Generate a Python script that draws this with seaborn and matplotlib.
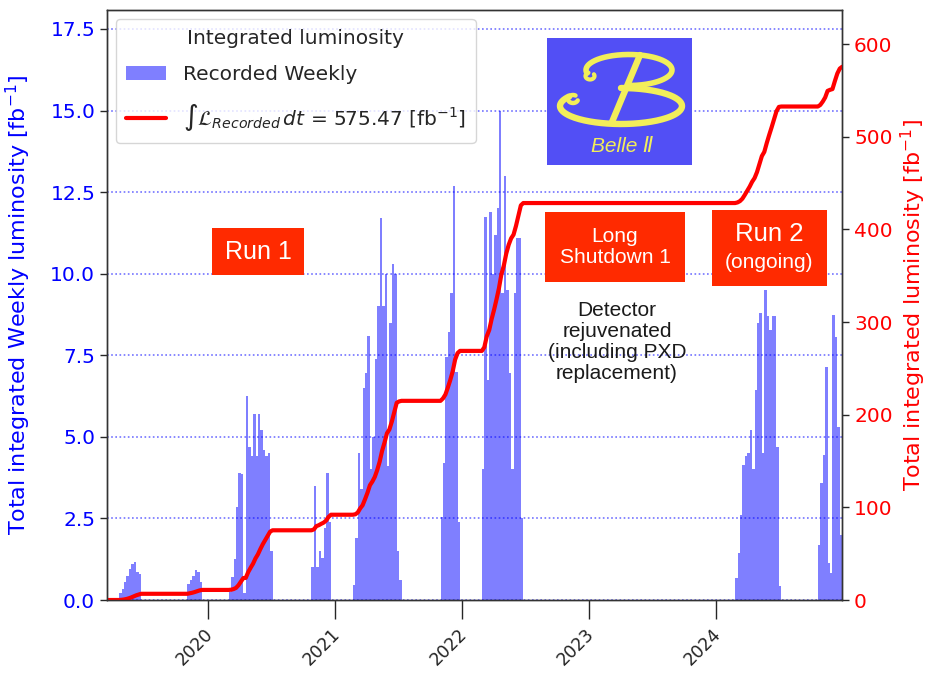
import numpy as np
import pandas as pd
import matplotlib
matplotlib.use("Agg")
import matplotlib.pyplot as plt
import matplotlib.dates as mdates
import matplotlib.transforms as mtransforms
from matplotlib.patches import Patch, Rectangle
from matplotlib.lines import Line2D
import seaborn as sns

# ---- data: weekly recorded luminosity [fb^-1], one list per data-taking period ----
first_week = "2019-03-18"
last_week = "2024-12-23"

period_starts = ["2019-04-22", "2019-11-04", "2020-03-02", "2020-10-26",
                 "2021-02-22", "2021-11-01", "2022-02-28", "2024-02-26",
                 "2024-10-21"]

lumi_2019_spring = [0.20, 0.35, 0.55, 0.75, 0.95, 1.10, 1.15, 0.85, 0.80]
lumi_2019_autumn = [0.50, 0.60, 0.75, 0.92, 0.85, 0.55]
lumi_2020_spring = [0.25, 0.70, 1.25, 2.85, 3.90, 3.85, 0.20, 6.25, 4.70,
                    4.40, 5.70, 4.40, 5.70, 5.20, 4.60, 4.40, 4.50, 1.50]
lumi_2020_autumn = [1.00, 3.50, 1.00, 1.50, 1.30, 2.20, 3.90, 2.40]
lumi_2021_spring = [0.46, 1.90, 4.50, 3.40, 6.50, 6.95, 8.10, 4.00, 5.00,
                    7.40, 9.00, 11.70, 9.00, 10.00, 4.10, 8.50, 10.30, 10.00,
                    1.50, 0.60]
lumi_2021_autumn = [2.55, 4.20, 7.45, 8.20, 9.40, 12.70, 7.00, 2.40]
lumi_2022_spring = [4.00, 11.75, 6.75, 11.90, 10.00, 11.20, 12.00, 15.00,
                    9.40, 13.00, 9.50, 6.95, 4.00, 9.40, 11.10, 11.10, 2.50]
lumi_2024_spring = [0.67, 1.43, 2.60, 4.14, 4.40, 4.50, 5.20, 4.00, 6.43,
                    8.50, 8.80, 4.50, 9.50, 8.70, 8.27, 8.70, 8.70, 4.70, 0.43]
lumi_2024_autumn = [1.69, 3.58, 4.44, 7.15, 1.14, 0.82, 8.73, 8.07, 5.30, 2.00]

periods = [lumi_2019_spring, lumi_2019_autumn, lumi_2020_spring,
           lumi_2020_autumn, lumi_2021_spring, lumi_2021_autumn,
           lumi_2022_spring, lumi_2024_spring, lumi_2024_autumn]

left_ticks = [0.0, 2.5, 5.0, 7.5, 10.0, 12.5, 15.0, 17.5]
right_ticks = [0, 100, 200, 300, 400, 500, 600]

# ---- build the weekly series and its running integral ----
weeks = pd.date_range(first_week, last_week, freq="W-MON")
weekly = pd.Series(0.0, index=weeks)
for start, vals in zip(period_starts, periods):
    idx = pd.date_range(start, periods=len(vals), freq="W-MON")
    weekly.loc[idx] = vals

edge_dates = list(weeks.to_pydatetime()) + [weeks[-1].to_pydatetime() + pd.Timedelta(days=7)]
edges = mdates.date2num(edge_dates)
df = pd.DataFrame({"week": edges[:-1] + 3.5, "lumi": weekly.values})
cumulative = np.concatenate([[0.0], np.cumsum(weekly.values)])
total = cumulative[-1]

# ---- figure ----
sns.set_theme(style="ticks")
plt.rcParams["font.family"] = ["DejaVu Sans"]
plt.rcParams["mathtext.fontset"] = "dejavusans"

W, H = 928, 673
fig = plt.figure(figsize=(W / 100, H / 100), dpi=100)
ax = fig.add_axes([107 / W, 1 - 600 / H, (842.2 - 107) / W, 590 / H])
ax2 = ax.twinx()

sns.histplot(data=df, x="week", weights="lumi", binwidth=7,
             binrange=(float(edges[0]), float(edges[-1])), color="blue",
             alpha=0.5, linewidth=0, ax=ax)
sns.lineplot(x=edges, y=cumulative, color="red", linewidth=3.0, ax=ax2)

ax.set_xlim(edges[0], edges[-1])
ax.set_ylim(0, 18.08)
ax2.set_ylim(0, 636.7)

ax.set_yticks(left_ticks)
ax.set_yticklabels([f"{t:.1f}" for t in left_ticks])
ax2.set_yticks(right_ticks)
ax2.set_yticklabels([str(t) for t in right_ticks])

ax.yaxis.grid(True, color="blue", linestyle=(0, (1, 1.5)), linewidth=1.2, alpha=0.55)
ax.xaxis.grid(False)

ax.xaxis.set_major_locator(mdates.YearLocator())
ax.xaxis.set_major_formatter(mdates.DateFormatter("%Y"))

ax.tick_params(axis="x", length=14, width=1, labelsize=12.5, labelrotation=45, pad=4)
ax.tick_params(axis="y", length=5, width=1, labelsize=14.5, labelcolor="blue")
ax2.tick_params(axis="y", length=5, width=1, labelsize=14.5, labelcolor="red")
shift = mtransforms.ScaledTranslation(9 / 100, 0, fig.dpi_scale_trans)
for lbl in ax.get_xticklabels():
    lbl.set_horizontalalignment("right")
    lbl.set_color("#222222")
    lbl.set_transform(lbl.get_transform() + shift)

ax.set_xlabel("")
ax.set_ylabel("Total integrated Weekly luminosity [fb$^{-1}$]", color="blue", fontsize=16)
ax2.set_ylabel("Total integrated luminosity [fb$^{-1}$]", color="red", fontsize=16)
ax.yaxis.set_label_coords(-0.10, 0.5)
ax2.yaxis.set_label_coords(1.077, 0.5)

for a in (ax, ax2):
    for s in a.spines.values():
        s.set_color("#333333")
        s.set_linewidth(1.0)

handles = [Patch(facecolor="blue", alpha=0.5, linewidth=0),
           Line2D([], [], color="red", linewidth=3.0)]
labels = ["Recorded Weekly",
          rf"$\int\mathcal{{L}}_{{Recorded}}\,dt$ = {total:.2f} [fb$^{{-1}}$]"]
leg = ax2.legend(handles, labels, title="Integrated luminosity", loc="upper left",
                 fontsize=14.5, title_fontsize=14.5, frameon=True, framealpha=0.8,
                 edgecolor="#cccccc", fancybox=True, borderaxespad=0.45,
                 labelspacing=0.85, borderpad=0.5)

# ---- annotations ----
def px(x, y):
    return x / W, 1 - y / H

red_box = "#ff2a00"
label_font = ["Liberation Sans", "DejaVu Sans"]

def box(x0, y0, x1, y1, color):
    fx, fy = px(x0, y1)
    fig.patches.append(Rectangle((fx, fy), (x1 - x0) / W, (y1 - y0) / H,
                                 transform=fig.transFigure, facecolor=color,
                                 edgecolor="none", zorder=5))

box(212, 228, 304, 275, red_box)
fig.text(*px(258, 252), "Run 1", color="white", fontsize=18, family=label_font,
         ha="center", va="center", zorder=6)

box(545, 212, 685, 282, red_box)
fig.text(*px(615, 247), "Long\nShutdown 1", color="white", fontsize=15,
         family=label_font, ha="center", va="center", linespacing=1.15, zorder=6)

box(712, 210, 827, 286, red_box)
fig.text(*px(769.5, 234), "Run 2", color="white", fontsize=18.5, family=label_font,
         ha="center", va="center", zorder=6)
fig.text(*px(769.5, 263), "(ongoing)", color="white", fontsize=15, family=label_font,
         ha="center", va="center", zorder=6)

fig.text(*px(617, 342), "Detector\nrejuvenated\n(including PXD\nreplacement)",
         color="#1a1a1a", fontsize=15, family=label_font, ha="center", va="center",
         linespacing=1.12, zorder=6)

# ---- Belle II logo: blue tile with a calligraphic yellow B ----
logo_yellow = "#f2ee5a"
box(547, 38, 692, 165, "#524ff5")

def stroke(xs, ys, lw):
    fx = np.asarray(xs) / W
    fy = 1 - np.asarray(ys) / H
    fig.add_artist(Line2D(fx, fy, transform=fig.transFigure, color=logo_yellow,
                          linewidth=lw, solid_capstyle="round", zorder=6))

# lower bowl: wide ellipse, ending in a small curl on the left
th = np.deg2rad(np.linspace(-90, 212, 200))
stroke(621 + 61 * np.cos(th), 106 + 18 * np.sin(th), 4.6)
curl = np.deg2rad(np.linspace(20, 300, 60))
stroke(573 + 5 * np.cos(curl), 99 + 4 * np.sin(curl), 3.2)
# upper bowl
th = np.deg2rad(np.linspace(168, 450, 200))
stroke(629 + 43 * np.cos(th), 70 + 15.5 * np.sin(th), 4.0)
curl = np.deg2rad(np.linspace(-30, 250, 60))
stroke(590 + 4.5 * np.cos(curl), 76 + 3.5 * np.sin(curl), 3.0)
# diagonal stem
stroke([640, 612], [55, 122], 4.6)

fig.text(*px(622, 146), "Belle \u2161", color=logo_yellow, fontsize=15,
         style="italic", family=label_font, ha="center", va="center", zorder=6)

fig.savefig("out.png", dpi=100)
